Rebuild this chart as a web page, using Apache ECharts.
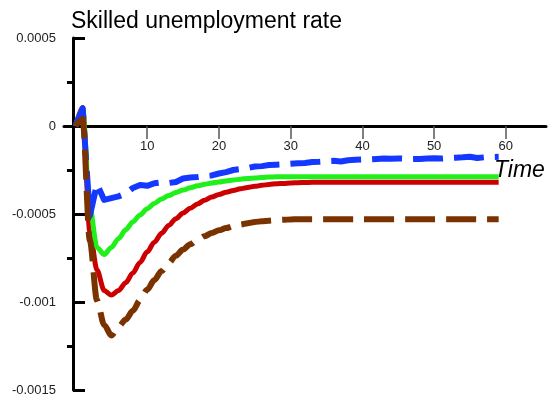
<!DOCTYPE html>
<html>
<head>
<meta charset="utf-8">
<script src="https://cdn.jsdelivr.net/npm/echarts@6/dist/echarts.min.js"></script>
<style>
  html, body { margin: 0; padding: 0; background: #ffffff; }
  #chart { width: 555px; height: 401px; }
</style>
</head>
<body>
<div id="chart"></div>
<script>
// Simulation periods
const periods = [0,1,2,3,4,5,6,7,8,9,10,11,12,13,14,15,16,17,18,19,20,21,22,23,24,25,26,27,28,29,
  30,31,32,33,34,35,36,37,38,39,40,41,42,43,44,45,46,47,48,49,50,51,52,53,54,55,56,57,58,59];

// Responses of the skilled unemployment rate (deviation from steady state)
const greenPath = [0, 0.000097, -0.00046, -0.00069, -0.00073, -0.00069, -0.00064, -0.00059, -0.000545, -0.000505,
  -0.00047, -0.00044, -0.000415, -0.000395, -0.000378, -0.000364, -0.000351, -0.00034, -0.000331, -0.000324,
  -0.000318, -0.000312, -0.000307, -0.000302, -0.000298, -0.000295, -0.000292, -0.00029, -0.000289, -0.000288,
  -0.000288, -0.000288, -0.000288, -0.000288, -0.000288, -0.000288, -0.000288, -0.000288, -0.000288, -0.000288,
  -0.000288, -0.000288, -0.000288, -0.000288, -0.000288, -0.000288, -0.000288, -0.000288, -0.000288, -0.000288,
  -0.000288, -0.000288, -0.000288, -0.000288, -0.000288, -0.000288, -0.000288, -0.000288, -0.000288, -0.000288];

const redPath = [0, 0.000105, -0.0006, -0.000818, -0.000935, -0.00096, -0.000935, -0.00089, -0.000835, -0.000775,
  -0.000715, -0.00066, -0.00061, -0.000565, -0.000527, -0.000494, -0.000467, -0.000443, -0.000422, -0.000404,
  -0.000389, -0.000377, -0.000366, -0.000357, -0.000349, -0.000343, -0.000337, -0.000332, -0.000328, -0.000326,
  -0.000324, -0.000322, -0.000321, -0.00032, -0.00032, -0.00032, -0.00032, -0.00032, -0.00032, -0.00032,
  -0.00032, -0.00032, -0.00032, -0.00032, -0.00032, -0.00032, -0.00032, -0.00032, -0.00032, -0.00032,
  -0.00032, -0.00032, -0.00032, -0.00032, -0.00032, -0.00032, -0.00032, -0.00032, -0.00032, -0.00032];

const bluePath = [0, 0.0001, -0.00051, -0.00033, -0.00042, -0.00041, -0.0004, -0.000384, -0.000352, -0.000335,
  -0.00034, -0.000325, -0.00032, -0.000324, -0.000318, -0.000298, -0.000293, -0.00029, -0.000284, -0.000281,
  -0.00027, -0.000262, -0.00025, -0.000245, -0.000239, -0.00023, -0.000228, -0.000222, -0.00022, -0.000218,
  -0.000215, -0.000212, -0.00021, -0.000205, -0.000203, -0.0002, -0.000198, -0.000202, -0.000195, -0.000192,
  -0.00019, -0.000189, -0.000187, -0.000185, -0.000186, -0.000184, -0.000186, -0.000188, -0.000187, -0.000184,
  -0.000183, -0.000185, -0.000182, -0.00018, -0.000178, -0.000175, -0.000182, -0.000178, -0.000176, -0.000175];

const brownPath = [0, 0.00004, -0.00065, -0.00099, -0.00113, -0.00119, -0.00114, -0.0011, -0.00105, -0.00099,
  -0.00093, -0.000875, -0.000824, -0.000778, -0.000737, -0.000702, -0.000672, -0.000648, -0.000626, -0.000608,
  -0.000593, -0.00058, -0.000569, -0.00056, -0.000552, -0.000546, -0.000541, -0.000538, -0.000535, -0.000533,
  -0.000531, -0.00053, -0.00053, -0.00053, -0.00053, -0.00053, -0.00053, -0.00053, -0.00053, -0.00053,
  -0.00053, -0.00053, -0.00053, -0.00053, -0.00053, -0.00053, -0.00053, -0.00053, -0.00053, -0.00053,
  -0.00053, -0.00053, -0.00053, -0.00053, -0.00053, -0.00053, -0.00053, -0.00053, -0.00053, -0.00053];

// Axis ticks and labels
const xTickValues = [10, 20, 30, 40, 50, 60];
const yTickValues = [0.0005, 0, -0.0005, -0.001, -0.0015];
const yTickLabels = ['0.0005', '0', '-0.0005', '-0.001', '-0.0015'];
const yMinorTickValues = [0.00025, -0.00025, -0.00075, -0.00125];

const chartTitle = 'Skilled unemployment rate';
const xName = 'Time';

const FONT = '"Liberation Sans", Arial, sans-serif';
const X_MIN = -1.6, X_MAX = 65.6;
const Y_MIN = -0.0015, Y_MAX = 0.0005;

// grid geometry: the horizontal axis crosses at y = 0, the vertical one sits just left of period 0
const GRID = { left: 64, right: 9, top: 38, bottom: 11 };
const GRID_H = 401 - GRID.top - GRID.bottom;
const X_AXIS_SHIFT = -Math.round(GRID_H * (0 - Y_MIN) / (Y_MAX - Y_MIN));
const Y_AXIS_SHIFT = -9;

function pairs(values) {
  return periods.map((t, i) => [t, values[i]]);
}

function yLabel(v) {
  const i = yTickValues.findIndex(u => Math.abs(u - v) < 1e-9);
  return i >= 0 ? yTickLabels[i] : '';
}

function lineSeries(name, values, color, width, dash, z, smooth) {
  return {
    name: name,
    type: 'line',
    data: pairs(values),
    showSymbol: false,
    symbol: 'none',
    smooth: smooth || false,
    smoothMonotone: 'x',
    z: z,
    lineStyle: { color: color, width: width, type: dash || 'solid', cap: 'butt', join: 'round' }
  };
}

const chart = echarts.init(document.getElementById('chart'), null, { renderer: 'canvas' });

chart.setOption({
  animation: false,
  backgroundColor: '#ffffff',
  title: [
    { text: chartTitle, left: 66, top: 5,
      textStyle: { fontFamily: FONT, fontSize: 23, fontWeight: 'normal', color: '#000' } },
    { text: xName, left: 489, top: 154,
      textStyle: { fontFamily: FONT, fontSize: 23, fontWeight: 'normal', fontStyle: 'italic', color: '#000' } }
  ],
  grid: Object.assign({ containLabel: false, outerBoundsMode: 'none' }, GRID),
  xAxis: {
    type: 'value', min: X_MIN, max: X_MAX, position: 'bottom', offset: X_AXIS_SHIFT,
    axisLine: { show: true, onZero: false, lineStyle: { color: '#000', width: 3 } },
    axisTick: { show: true, customValues: xTickValues, length: 13, lineStyle: { color: '#555', width: 1.5 } },
    axisLabel: { show: true, customValues: xTickValues, margin: 14,
      fontFamily: FONT, fontSize: 13, color: '#222' },
    splitLine: { show: false }
  },
  yAxis: [
    {
      type: 'value', min: Y_MIN, max: Y_MAX, position: 'left', offset: Y_AXIS_SHIFT,
      axisLine: { show: true, onZero: false, lineStyle: { color: '#000', width: 3 } },
      axisTick: { show: true, inside: true, customValues: yTickValues, length: 12,
        lineStyle: { color: '#000', width: 3 } },
      axisLabel: { show: true, customValues: yTickValues, margin: 17, formatter: yLabel,
        fontFamily: FONT, fontSize: 13, color: '#222' },
      splitLine: { show: false }
    },
    {
      type: 'value', min: Y_MIN, max: Y_MAX, position: 'left', offset: Y_AXIS_SHIFT,
      axisLine: { show: false, onZero: false },
      axisTick: { show: true, inside: false, customValues: yMinorTickValues, length: 6,
        lineStyle: { color: '#000', width: 3 } },
      axisLabel: { show: false },
      splitLine: { show: false }
    }
  ],
  series: [
    lineSeries('red', redPath, '#cc0000', 5, 'solid', 2, 0.3),
    lineSeries('green', greenPath, '#1ff01a', 5, 'solid', 3, 0.3),
    lineSeries('blue', bluePath, '#1438ff', 6, [30, 11], 4, false),
    lineSeries('brown', brownPath, '#7a3300', 6, [30, 11], 5, 0.3)
  ]
});
</script>
</body>
</html>
